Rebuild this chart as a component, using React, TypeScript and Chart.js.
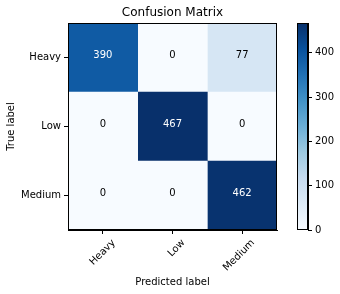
import React, { useEffect, useRef } from 'react';
import { Chart, registerables } from 'chart.js';

Chart.register(...registerables);

// ---- data ----
const classes = ['Heavy', 'Low', 'Medium'];
const rowHeavy = [390, 0, 77];
const rowLow = [0, 467, 0];
const rowMedium = [0, 0, 462];
const rows = [rowHeavy, rowLow, rowMedium];
const colorbarTicks = [0, 100, 200, 300, 400];
const vmax = 467;
const title = 'Confusion Matrix';
const xTitle = 'Predicted label';
const yTitle = 'True label';

const FONT = "'DejaVu Sans', sans-serif";

const BLUES = [
  [247, 251, 255], [222, 235, 247], [198, 219, 239], [158, 202, 225], [107, 174, 214],
  [66, 146, 198], [33, 113, 181], [8, 81, 156], [8, 48, 107],
];

function blues(t: number): string {
  const c = Math.max(0, Math.min(1, t));
  const p = c * 8;
  const i = Math.min(7, Math.floor(p));
  const f = p - i;
  const a = BLUES[i], b = BLUES[i + 1];
  const r = Math.round(a[0] + (b[0] - a[0]) * f);
  const g = Math.round(a[1] + (b[1] - a[1]) * f);
  const bl = Math.round(a[2] + (b[2] - a[2]) * f);
  return `rgb(${r},${g},${bl})`;
}

const cellTextPlugin = {
  id: 'cellText',
  afterDatasetsDraw(chart: any) {
    const { ctx, scales, chartArea } = chart;
    const x = scales.x, y = scales.y;
    ctx.save();
    ctx.font = `10px ${FONT}`;
    ctx.textAlign = 'center';
    ctx.textBaseline = 'alphabetic';
    rows.forEach((r, i) => {
      r.forEach((v, j) => {
        ctx.fillStyle = v > vmax / 2 ? '#ffffff' : '#000000';
        ctx.fillText(String(v), x.getPixelForValue(j + 0.5), y.getPixelForValue(i));
      });
    });
    ctx.strokeStyle = '#000';
    ctx.lineWidth = 1;
    const l = Math.round(chartArea.left) + 0.5;
    const t = Math.round(chartArea.top) + 0.5;
    const rr = Math.round(chartArea.right) - 0.5;
    const b = Math.round(chartArea.bottom) - 0.5;
    ctx.strokeRect(l, t, rr - l, b - t);
    ctx.restore();
  },
};

const framePlugin = {
  id: 'cbFrame',
  afterDatasetsDraw(chart: any) {
    const { ctx, chartArea } = chart;
    ctx.save();
    ctx.strokeStyle = '#000';
    ctx.lineWidth = 1;
    const l = Math.round(chartArea.left) + 0.5;
    const t = Math.round(chartArea.top) + 0.5;
    const rr = Math.round(chartArea.right) - 0.5;
    const b = Math.round(chartArea.bottom) - 0.5;
    ctx.strokeRect(l, t, rr - l, b - t);
    ctx.restore();
  },
};

export default function App() {
  const mainRef = useRef<HTMLCanvasElement>(null);
  const cbRef = useRef<HTMLCanvasElement>(null);

  useEffect(() => {
    const tickFont = { family: FONT, size: 10 };
    const main = new Chart(mainRef.current!, {
      type: 'bar',
      data: {
        labels: classes,
        datasets: classes.map((pred, j) => ({
          label: pred,
          data: rows.map(() => [j, j + 1]),
          backgroundColor: rows.map((r) => blues(r[j] / vmax)),
          borderWidth: 0,
          barPercentage: 1,
          categoryPercentage: 1,
          grouped: false,
        })),
      } as any,
      options: {
        indexAxis: 'y',
        responsive: false,
        animation: false,
        layout: { padding: { left: 0, top: 0, right: 63, bottom: 0 } },
        plugins: {
          legend: { display: false },
          tooltip: { enabled: false },
          title: {
            display: true,
            fullSize: false,
            text: title,
            color: '#000',
            font: { family: FONT, size: 12, weight: 'normal' },
            padding: { top: 6, bottom: 2.6 },
          },
        },
        scales: {
          x: {
            type: 'linear',
            min: 0,
            max: 3,
            afterBuildTicks: (s: any) => {
              s.ticks = classes.map((_, j) => ({ value: j + 0.5 }));
            },
            ticks: {
              callback: (v: any) => classes[Math.round(Number(v) - 0.5)],
              minRotation: 45,
              maxRotation: 45,
              autoSkip: false,
              color: '#000',
              font: tickFont,
              padding: 3,
              labelOffset: 11,
            },
            grid: { drawOnChartArea: false, drawTicks: true, tickLength: 4, color: '#000' },
            border: { display: true, color: '#000', width: 1 },
            title: {
              display: true,
              text: xTitle,
              color: '#000',
              font: tickFont,
              padding: { top: 0, bottom: 6 },
            },
            afterFit: (s: any) => {
              s.height = 64;
            },
          },
          y: {
            type: 'category',
            labels: classes,
            offset: true,
            grid: { offset: false, drawOnChartArea: false, drawTicks: true, tickLength: 4, color: '#000' },
            border: { display: true, color: '#000', width: 1 },
            ticks: { color: '#000', font: tickFont, padding: 3 },
            title: {
              display: true,
              text: yTitle,
              color: '#000',
              font: tickFont,
              padding: { top: 5, bottom: 0 },
            },
            afterFit: (s: any) => {
              s.width = 68;
            },
          },
        },
      } as any,
      plugins: [cellTextPlugin],
    });

    const cb = new Chart(cbRef.current!, {
      type: 'bar',
      data: {
        labels: [''],
        datasets: [
          {
            data: [[0, vmax]],
            backgroundColor: (c: any) => {
              const area = c.chart.chartArea;
              if (!area) return blues(0.5);
              const g = c.chart.ctx.createLinearGradient(0, area.bottom, 0, area.top);
              BLUES.forEach((_, k) => g.addColorStop(k / 8, blues(k / 8)));
              return g;
            },
            borderWidth: 0,
            barPercentage: 1,
            categoryPercentage: 1,
          },
        ],
      } as any,
      options: {
        responsive: false,
        animation: false,
        layout: { padding: { left: 17, top: 23, right: 0, bottom: 64 } },
        plugins: { legend: { display: false }, tooltip: { enabled: false } },
        scales: {
          x: { display: false },
          y: {
            position: 'right',
            min: 0,
            max: vmax,
            afterBuildTicks: (s: any) => {
              s.ticks = colorbarTicks.map((v) => ({ value: v }));
            },
            ticks: { color: '#000', font: tickFont, padding: 3 },
            grid: { drawOnChartArea: false, drawTicks: true, tickLength: 4, color: '#000' },
            border: { display: true, color: '#000', width: 1 },
            afterFit: (s: any) => {
              s.width = 32;
            },
          },
        },
      } as any,
      plugins: [framePlugin],
    });

    return () => {
      main.destroy();
      cb.destroy();
    };
  }, []);

  return (
    <div style={{ position: 'absolute', left: 0, top: 0, width: 340, height: 294, background: '#fff' }}>
      <canvas
        ref={mainRef}
        width={340}
        height={294}
        style={{ position: 'absolute', left: 0, top: 0, width: 340, height: 294 }}
      />
      <canvas
        ref={cbRef}
        width={60}
        height={294}
        style={{ position: 'absolute', left: 280, top: 0, width: 60, height: 294 }}
      />
    </div>
  );
}
